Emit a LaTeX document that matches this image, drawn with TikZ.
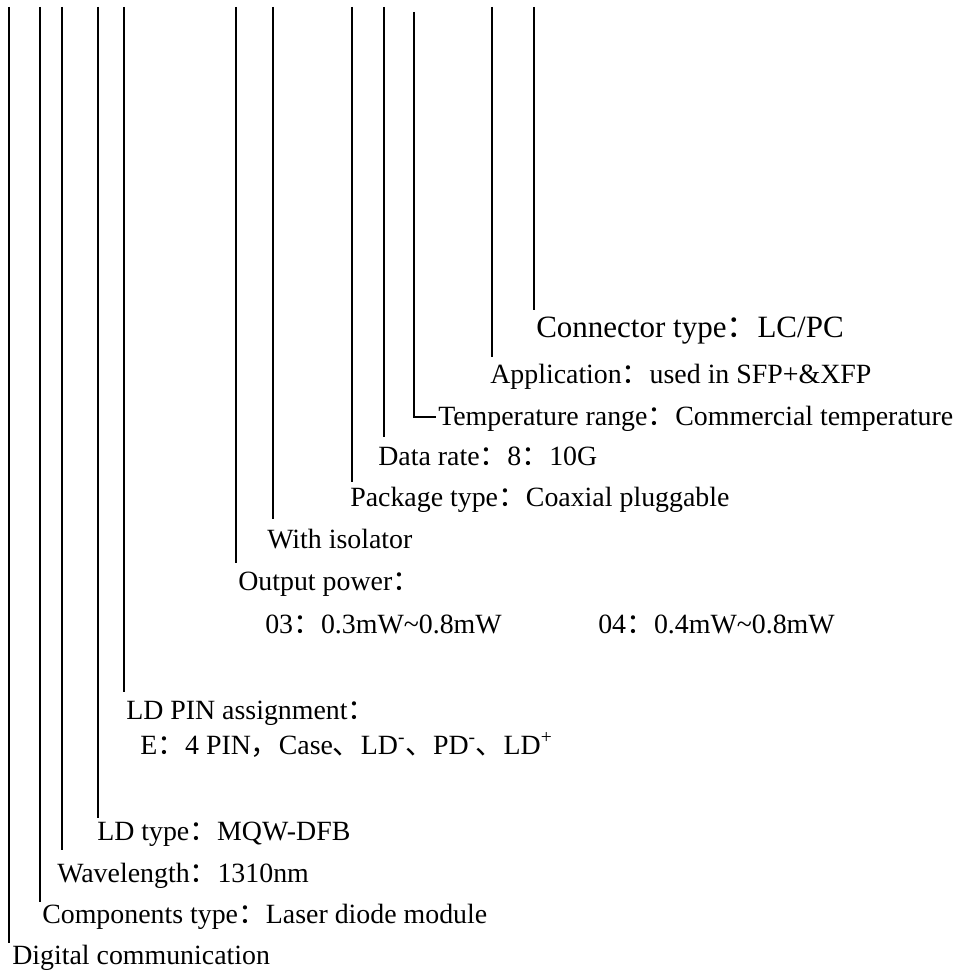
\documentclass[tikz,border=0pt]{standalone}
\usepackage{fontspec}
\setmainfont{Liberation Serif}
\newfontfamily\cjkfont{Noto Sans CJK SC}
\newcommand{\zcol}{{\cjkfont ：}}
\newcommand{\zcom}{{\cjkfont ，}}
\newcommand{\zdun}{{\cjkfont 、}}
\begin{document}
\begin{tikzpicture}[x=0.75pt,y=-0.75pt,
  lbl/.style={anchor=base west,inner sep=0pt,font=\fontsize{20.9pt}{24pt}\selectfont},
  biglbl/.style={anchor=base west,inner sep=0pt,font=\fontsize{23.25pt}{27pt}\selectfont},
  lead/.style={line width=1.3pt}]
\useasboundingbox (0,0) rectangle (959,970);
% labels
\node[lbl] (dig) at (12,964) {Digital communication};
\node[lbl] (comp) at (42,923) {Components type\zcol Laser diode module};
\node[lbl] (wave) at (57,882) {Wavelength\zcol 1310nm};
\node[lbl] (ldt) at (97,840) {LD type\zcol MQW-DFB};
\node[lbl] (pin) at (126,719) {LD PIN assignment\zcol};
\node[lbl] (pinE) at (140,754) {E\zcol 4 PIN\zcom Case\zdun LD\textsuperscript{-}\zdun PD\textsuperscript{-}\zdun LD\textsuperscript{+}};
\node[lbl] (outp) at (238,590) {Output power\zcol};
\node[lbl] (o3) at (265,633) {03\zcol 0.3mW\textasciitilde0.8mW};
\node[lbl] (o4) at (598,633) {04\zcol 0.4mW\textasciitilde0.8mW};
\node[lbl] (iso) at (267,548) {With isolator};
\node[lbl] (pkg) at (350,506) {Package type\zcol Coaxial pluggable};
\node[lbl] (rate) at (378,465) {Data rate\zcol 8\zcol 10G};
\node[lbl] (temp) at (438,425) {Temperature range\zcol Commercial temperature};
\node[lbl] (app) at (490,383) {Application\zcol used in SFP+\&XFP};
\node[biglbl] (conn) at (536,337) {Connector type\zcol LC/PC};
% leader coordinates
\coordinate (t1) at (9,7);    \coordinate (b1) at (9,943);
\coordinate (t2) at (40,7);   \coordinate (b2) at (40,902);
\coordinate (t3) at (62,7);   \coordinate (b3) at (62,850);
\coordinate (t4) at (98,7);   \coordinate (b4) at (98,818);
\coordinate (t5) at (124,7);  \coordinate (b5) at (124,692);
\coordinate (t6) at (236,7);  \coordinate (b6) at (236,563);
\coordinate (t7) at (273,7);  \coordinate (b7) at (273,519);
\coordinate (t8) at (352,7);  \coordinate (b8) at (352,482);
\coordinate (t9) at (384,7);  \coordinate (b9) at (384,437);
\coordinate (t10) at (414,12); \coordinate (b10) at (414,417);
\coordinate (e10) at (436,417);
\coordinate (t11) at (492,7); \coordinate (b11) at (492,357);
\coordinate (t12) at (534,7); \coordinate (b12) at (534,310);
\foreach \i in {1,...,9,11,12} {\draw[lead] (t\i) -- (b\i);}
\draw[lead] (t10) -- (b10) -- (e10);
\end{tikzpicture}
\end{document}
